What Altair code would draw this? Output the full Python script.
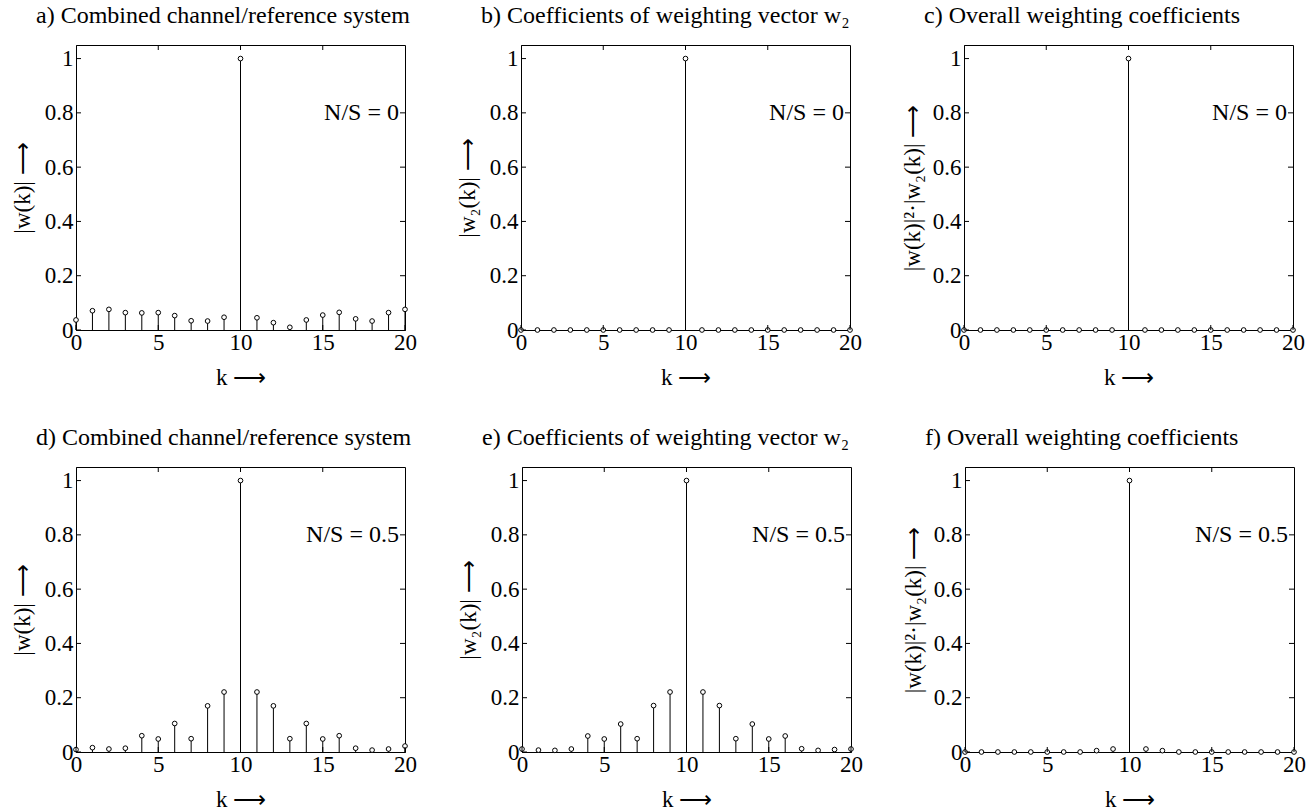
import altair as alt
import pandas as pd

FONT = "Liberation Serif"
FS = 23

K = list(range(21))
X_TICKS = [0, 5, 10, 15, 20]
Y_TICKS = [0, 0.2, 0.4, 0.6, 0.8, 1.0]
TOP_TICKS = [5, 10, 15]
RIGHT_TICKS = [0.2, 0.4, 0.6, 0.8]

A_VALS = [0.037, 0.071, 0.076, 0.064, 0.063, 0.064, 0.053, 0.034, 0.033, 0.047, 1.0,
          0.045, 0.027, 0.010, 0.037, 0.055, 0.065, 0.041, 0.033, 0.064, 0.076]
B_VALS = [0, 0, 0, 0, 0, 0, 0, 0, 0, 0, 1.0, 0, 0, 0, 0, 0, 0, 0, 0, 0, 0]
C_VALS = [0, 0, 0, 0, 0, 0, 0, 0, 0, 0, 1.0, 0, 0, 0, 0, 0, 0, 0, 0, 0, 0]
D_VALS = [0.009, 0.016, 0.011, 0.014, 0.060, 0.048, 0.105, 0.049, 0.170, 0.221, 1.0,
          0.221, 0.170, 0.049, 0.105, 0.048, 0.060, 0.014, 0.007, 0.011, 0.022]
E_VALS = [0.011, 0.007, 0.006, 0.011, 0.059, 0.048, 0.103, 0.049, 0.171, 0.221, 1.0,
          0.221, 0.171, 0.049, 0.103, 0.048, 0.059, 0.012, 0.006, 0.009, 0.011]
F_VALS = [0, 0, 0, 0, 0, 0, 0, 0, 0.005, 0.011, 1.0, 0.011, 0.005, 0, 0, 0, 0, 0, 0, 0, 0]

TITLES = [
    "a)  Combined channel/reference system",
    "b)  Coefficients of weighting vector w\u2082",
    "c)  Overall weighting coefficients",
    "d)  Combined channel/reference system",
    "e)  Coefficients of weighting vector w\u2082",
    "f)  Overall weighting coefficients",
]
ARROW = "\u27f6"
YLABELS = [
    "|w(k)|     " + ARROW,
    "|w\u2082(k)|     " + ARROW,
    "|w(k)|\u00b2\u00b7|w\u2082(k)|     " + ARROW,
]
XLABEL = "k     " + ARROW
NS_TEXT = ["N/S = 0", "N/S = 0.5"]
NS_Y = 0.8

W, H = 329, 285
TL = 5  # inward tick length


def panel(title, ylabel, vals, ns, tpad):
    df = pd.DataFrame({"k": K, "v": vals})
    xs = alt.Scale(domain=[0, 20], nice=False, zero=False)
    ys = alt.Scale(domain=[0, 1.05], nice=False)
    xax = alt.Axis(values=X_TICKS, ticks=False, grid=False, title=XLABEL, labelFlush=False,
                   format="~g", labelPadding=1, titlePadding=12)
    yax = alt.Axis(values=Y_TICKS, ticks=False, grid=False, title=ylabel, format="~g",
                   labelPadding=3, titlePadding=tpad, labelFlush=False)

    X = lambda f: alt.X(f, scale=xs, axis=xax)
    Y = lambda f: alt.Y(f, scale=ys, axis=yax)

    stems = alt.Chart(df).mark_rule(color="black", strokeWidth=1).encode(
        x=X("k:Q"), y=Y("v:Q"), y2=alt.datum(0))
    dots = alt.Chart(df).mark_point(shape="circle", size=22, filled=True, fill="white",
                                    stroke="black", strokeWidth=1, opacity=1).encode(
        x=X("k:Q"), y=Y("v:Q"))

    xt = pd.DataFrame({"t": X_TICKS})
    tt = pd.DataFrame({"t": TOP_TICKS})
    yt = pd.DataFrame({"t": Y_TICKS})
    rt = pd.DataFrame({"t": RIGHT_TICKS})
    bottom = alt.Chart(xt).mark_rule(color="black").encode(
        x=X("t:Q"), y=alt.value(H), y2=alt.value(H - TL))
    top = alt.Chart(tt).mark_rule(color="black").encode(
        x=X("t:Q"), y=alt.value(0), y2=alt.value(TL))
    left = alt.Chart(yt).mark_rule(color="black").encode(
        y=Y("t:Q"), x=alt.value(0), x2=alt.value(TL))
    right = alt.Chart(rt).mark_rule(color="black").encode(
        y=Y("t:Q"), x=alt.value(W), x2=alt.value(W - TL))

    label = alt.Chart(pd.DataFrame({"t": [ns]})).mark_text(
        align="right", baseline="middle", font=FONT, fontSize=24, color="black").encode(
        x=alt.value(W - 6), y=alt.datum(NS_Y), text="t:N")

    return alt.layer(stems, dots, bottom, top, left, right, label).properties(
        width=W, height=H,
        title=alt.TitleParams(title, anchor="start", frame="group", dx=-40, offset=17,
                              font=FONT, fontSize=24, fontWeight="normal", color="black"))


row1 = alt.hconcat(
    panel(TITLES[0], YLABELS[0], A_VALS, NS_TEXT[0], 10),
    panel(TITLES[1], YLABELS[1], B_VALS, NS_TEXT[0], 10),
    panel(TITLES[2], YLABELS[2], C_VALS, NS_TEXT[0], 8),
    spacing=38)
row2 = alt.hconcat(
    panel(TITLES[3], YLABELS[0], D_VALS, NS_TEXT[1], 10),
    panel(TITLES[4], YLABELS[1], E_VALS, NS_TEXT[1], 10),
    panel(TITLES[5], YLABELS[2], F_VALS, NS_TEXT[1], 8),
    spacing=38)

chart = alt.vconcat(row1, row2, spacing=35).properties(
    padding={"left": 10, "top": 3, "right": 5, "bottom": 5},
    background="white"
).configure_view(stroke="black", strokeWidth=1).configure_axis(
    labelFont=FONT, titleFont=FONT, labelFontSize=FS, titleFontSize=FS,
    titleFontWeight="normal", labelColor="black", titleColor="black",
    domainColor="black", domainWidth=1, grid=False
)

chart.save("out.html", embed_options={"renderer": "svg", "actions": False})
